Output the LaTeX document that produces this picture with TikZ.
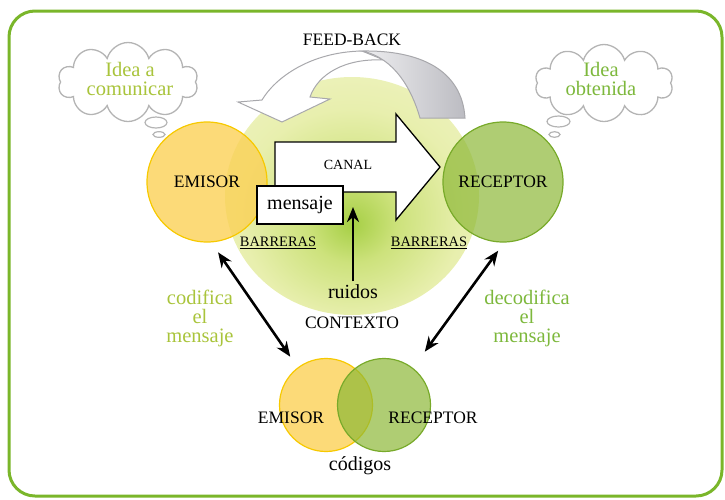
\documentclass[tikz,border=0pt]{standalone}
\usepackage{fontspec}
\setmainfont{Liberation Serif}
\usetikzlibrary{positioning,shapes.symbols,arrows.meta}
\definecolor{marco}{HTML}{7AB62A}
\definecolor{oro}{HTML}{F7C900}
\definecolor{amarillo}{HTML}{FBD156}
\definecolor{verdecirc}{HTML}{8DB837}
\definecolor{verdeborde}{HTML}{78AA2A}
\definecolor{verdeclaro}{HTML}{A9C43B}
\definecolor{verdemedio}{HTML}{7DB83C}
\definecolor{nubegris}{HTML}{B4B4B4}
\definecolor{gris}{HTML}{A8A8AC}
\definecolor{grisclaro}{HTML}{EEEEF0}
\definecolor{grisoscuro}{HTML}{BCBCC2}
\definecolor{ctxverde}{HTML}{A6CF45}
\definecolor{ctxlima}{HTML}{CDE27C}
\definecolor{ctxamarillo}{HTML}{E8EFAE}
\definecolor{ctxpalido}{HTML}{F1F4C8}
\definecolor{ctxborde}{HTML}{F6F7DC}
\pgfdeclareradialshading{contexto}{\pgfpoint{0bp}{-6bp}}{color(0bp)=(ctxverde); color(9bp)=(ctxlima); color(22bp)=(ctxamarillo); color(38bp)=(ctxpalido); color(50bp)=(ctxborde); color(54bp)=(ctxborde)}
\begin{document}
\begin{tikzpicture}[x=1pt,y=-1pt,
  tcap/.style={font=\fontsize{17.5}{20}\selectfont},
  tcanal/.style={font=\fontsize{14}{16}\selectfont},
  tbarr/.style={font=\fontsize{14.4}{16}\selectfont},
  tmin/.style={font=\fontsize{20}{22}\selectfont},
  tverde/.style={font=\fontsize{20.5}{19}\selectfont, align=center},
  circulo/.style={circle, minimum size=120pt, line width=1.2pt, inner sep=0pt, text opacity=1},
  circulob/.style={circle, minimum size=93pt, line width=1.2pt, inner sep=0pt},
  nube/.style={cloud, cloud puffs=10, aspect=1.8, draw=nubegris, line width=1.3pt, fill=white, inner sep=0pt},
  burbuja/.style={draw=nubegris, line width=1.2pt, fill=white},
  flecha/.style={line width=2.6pt, {Stealth[length=15pt,width=12pt]}-{Stealth[length=15pt,width=12pt]}}]
\useasboundingbox (0,0) rectangle (725,499);
\draw[marco, line width=3pt, rounded corners=26pt] (9,11) rectangle (722,496);

\node[nube, minimum width=140pt, minimum height=79pt] (nubeizq) at (128,82) {};
\node[tverde, text=verdeclaro] (idea) at (130,79) {Idea a\\comunicar};
\draw[burbuja] (156,122.5) ellipse [x radius=11, y radius=5.5];
\draw[burbuja] (159,134.5) ellipse [x radius=6, y radius=2.8];
\node[nube, minimum width=138pt, minimum height=77pt] (nubeder) at (604,83) {};
\node[tverde, text=verdemedio] (obtenida) at (601,79) {Idea\\obtenida};
\draw[burbuja] (558.5,121.5) ellipse [x radius=11.5, y radius=5.5];
\draw[burbuja] (554.5,134.5) ellipse [x radius=5.5, y radius=2.8];

\shade[shading=contexto] (352,196) ellipse [x radius=127, y radius=119];

\node[circulo, draw=oro, fill=amarillo, fill opacity=0.8, tcap] (emisor) at (207,182) {EMISOR};
\node[circulo, draw=verdeborde, fill=verdecirc, fill opacity=0.7, tcap] (receptor) at (503,182) {RECEPTOR};

\filldraw[draw=gris, fill=white, line width=1pt] (262,100) -- (238,102) -- (282,122) -- (330,99) -- (310,97) .. controls (318,74) and (345,58) .. (384,60) -- (362,51) .. controls (310,52) and (275,78) .. (262,100) -- cycle;
\shade[draw=gris, line width=1pt, left color=grisclaro, right color=grisoscuro] (362,51) .. controls (395,58) and (412,90) .. (420,118) -- (465,118) .. controls (462,70) and (420,50) .. (362,51) -- cycle;
\node[tcap] (feedback) at (352,40) {FEED-BACK};

\filldraw[fill=white, line width=1.3pt] (275,142) -- (396,142) -- (396,114) -- (440,167) -- (396,220) -- (396,192) -- (275,192) -- cycle;
\node[tcanal] (canal) at (348,165) {CANAL};
\node[draw, fill=white, line width=1.2pt, minimum width=86pt, minimum height=38pt, tmin] (mensaje) at (300,205) {mensaje};

\node[tbarr] (barrizq) at (278,243) {\underline{BARRERAS}};
\node[tbarr] (barrder) at (429,243) {\underline{BARRERAS}};

\node[tmin] (ruidos) at (353,292) {ruidos};
\coordinate (ruidotip) at (353,207);
\draw[line width=2.8pt, -{Stealth[length=15pt,width=12pt]}] (ruidos.north) -- (ruidotip);
\node[tcap] (contexto) at (352,323) {CONTEXTO};

\node[tverde, text=verdeclaro] (codifica) at (200,318) {codifica\\el\\mensaje};
\node[tverde, text=verdemedio] (decodifica) at (527,318) {decodifica\\el\\mensaje};

\node[circulob, draw=oro, fill=amarillo, fill opacity=0.8] (emisorb) at (326,405) {};
\node[circulob, draw=verdeborde, fill=verdecirc, fill opacity=0.7] (receptorb) at (384,405) {};
\node[tcap] (emisortxt) at (291,418) {EMISOR};
\node[tcap] (receptortxt) at (433,418) {RECEPTOR};
\node[tmin] (codigos) at (360,466) {códigos};

\draw[flecha, shorten <=12pt, shorten >=13pt] (emisor.-86) -- (emisorb.127);
\draw[flecha, shorten <=10pt, shorten >=20pt] (receptor.-89) -- (receptorb.52);
\end{tikzpicture}
\end{document}
